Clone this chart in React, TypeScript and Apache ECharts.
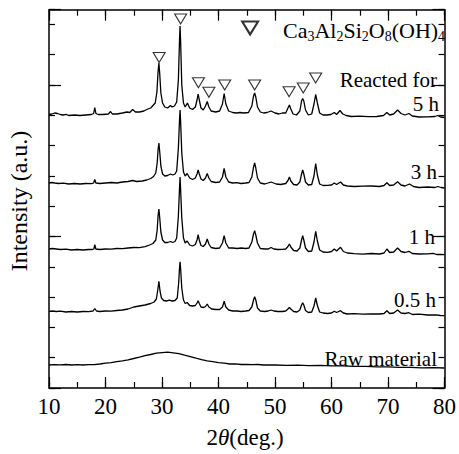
import React, { useEffect, useRef } from "react";
import * as echarts from "echarts";

// 2θ (deg.) vs intensity (a.u., offset traces)
const xMin = 10;
const xMax = 80;
const xMajor = 10;
const xMinor = 5;
const yMax = 378.3;
const yMinor = 30.3;
const yMajor = 151.5;

const raw: [number, number][] = [
  [10, 23], [11, 23.4], [12, 23.1], [13, 23.5], [14, 23], [15, 23.3], [16, 23], [17, 23.4], [18, 23.3],
  [19, 24], [20, 24.8], [21, 25.3], [22, 26.3], [23, 27.2], [24, 28.2], [25, 29.5], [26, 30.8],
  [27, 32.3], [28, 33.5], [29, 34.9], [30, 35.4], [31, 35.8], [32, 35.2], [33, 34.3], [34, 32.8],
  [35, 31.4], [36, 29.8], [37, 28.4], [38, 27.2], [39, 26.3], [40, 25.3], [41, 24.8], [42, 24],
  [43, 24.2], [44, 23.5], [45, 23.7], [46, 23.4], [47, 23.5], [48, 23], [49, 23.2], [50, 23],
  [52, 22.6], [54, 22.8], [56, 22.4], [58, 22.6], [60, 22.1], [62, 22.2], [64, 21.6], [66, 21.7],
  [68, 21.1], [70, 21.2], [72, 20.6], [74, 20.7], [76, 20.2], [78, 20.3], [80, 20],
];

const h05: [number, number][] = [
  [10, 76.7], [10.6, 77], [11.3, 76.5], [12, 76.8], [13, 76], [14, 76.5], [15, 76], [16, 76.5],
  [17, 76.3], [17.8, 77], [18.1, 79.5], [18.4, 77], [19, 76.5], [20, 77], [21, 76.8], [22, 77.5],
  [23, 78], [24, 79], [25, 81], [26, 82], [27, 83], [28, 84.5], [28.6, 86], [29, 89], [29.25, 98],
  [29.45, 106.7], [29.65, 97], [29.9, 90], [30.3, 87.5], [30.8, 87], [31.3, 87.8], [31.8, 87],
  [32.3, 87.5], [32.7, 90], [32.95, 105], [33.1, 120], [33.2, 126.3], [33.3, 119], [33.5, 100],
  [33.8, 88], [34.1, 84.5], [34.45, 85.5], [34.9, 82.5], [35.4, 82], [35.9, 82.5], [36.2, 85],
  [36.4, 87.3], [36.6, 84.5], [36.9, 81], [37.4, 80.5], [37.7, 81.5], [38, 84], [38.3, 81],
  [38.8, 79], [39.5, 78.5], [40.2, 78.5], [40.7, 81], [41, 86.7], [41.3, 81], [41.8, 78],
  [42.5, 77], [43.3, 77], [44, 76.5], [44.8, 77], [45.4, 77.5], [45.9, 81], [46.2, 88],
  [46.4, 91.3], [46.6, 88], [46.9, 80], [47.4, 77], [48.2, 76.5], [48.8, 77], [49.3, 78],
  [49.8, 77], [50.5, 76.5], [51.3, 76.5], [51.9, 77], [52.3, 79], [52.55, 80.7], [52.8, 79],
  [53.3, 76.5], [53.9, 76], [54.4, 78], [54.7, 83], [54.9, 85.3], [55.1, 83], [55.4, 77.5],
  [55.9, 75.5], [56.5, 76], [56.9, 82], [57.2, 90], [57.5, 82.5], [57.9, 76], [58.5, 75],
  [59.3, 74.5], [60, 75], [60.5, 76.7], [60.9, 75.5], [61.6, 77.3], [62.1, 75], [62.8, 74],
  [64, 74.3], [65.5, 73.8], [67, 74.2], [68.5, 74], [69.3, 74.5], [69.8, 77.3], [70.3, 74.5],
  [71, 75], [71.7, 78], [72.3, 75], [73, 74.5], [73.7, 75.3], [74.3, 73.5], [75.5, 73.8],
  [77, 73], [78.5, 73.2], [79.3, 72.5], [80, 72.3],
];

const h1: [number, number][] = [
  [10, 139], [10.6, 139.5], [11.3, 139], [12, 138.5], [13, 138.8], [14, 138], [15, 138.5], [16, 138],
  [17, 138.5], [17.7, 138.5], [17.95, 139], [18.1, 143.3], [18.3, 139], [19, 138.5], [20, 139],
  [21, 138.8], [22, 139.5], [23, 139.3], [24, 140], [25, 140.5], [26, 140.3], [27, 141.3],
  [27.8, 143], [28.4, 144.5], [28.9, 148], [29.15, 158], [29.3, 172], [29.45, 179], [29.6, 170],
  [29.8, 156], [30.1, 148], [30.5, 145.5], [31, 145.5], [31.5, 146.5], [31.9, 145.5], [32.3, 146.5],
  [32.6, 150], [32.9, 172], [33.1, 200], [33.2, 211], [33.3, 198], [33.5, 170], [33.8, 150],
  [34.1, 145], [34.45, 147], [34.9, 143], [35.4, 142], [35.9, 143.5], [36.2, 148], [36.4, 153.3],
  [36.6, 148], [36.9, 142.5], [37.3, 141.5], [37.7, 144], [38, 149], [38.3, 144], [38.7, 140.5],
  [39.5, 139.5], [40.2, 140], [40.7, 145], [41, 152.3], [41.3, 145], [41.8, 140], [42.5, 140],
  [43.3, 139.5], [44, 140], [44.8, 139.5], [45.4, 140], [45.9, 146], [46.2, 154], [46.4, 157.3],
  [46.6, 153], [46.9, 145], [47.4, 139.5], [48.2, 139], [48.8, 139], [49.3, 140.5], [49.8, 139],
  [50.5, 138.5], [51.3, 138.7], [51.9, 139], [52.3, 141.5], [52.55, 144], [52.8, 141], [53.3, 137.5],
  [53.9, 137], [54.4, 140], [54.7, 148], [54.9, 152.3], [55.1, 148], [55.4, 140], [55.9, 136.5],
  [56.5, 137], [56.9, 146], [57.2, 156.7], [57.5, 147], [57.9, 138], [58.5, 136], [59.3, 135.7],
  [60, 136.5], [60.5, 139], [60.9, 137], [61.6, 140.7], [62.1, 136.5], [62.8, 135], [64, 134.3],
  [65.5, 133.8], [67, 134.5], [68.5, 134], [69.3, 135], [69.8, 139], [70.3, 135.5], [71, 136],
  [71.7, 140], [72.3, 136.5], [73, 135.5], [73.7, 136.7], [74.3, 134.5], [75.5, 134], [77, 134.2],
  [78, 134.7], [78.6, 133.5], [79.3, 133.7], [80, 133.3],
];

const h3: [number, number][] = [
  [10, 205], [10.5, 205.5], [11, 205], [11.7, 204.5], [12.5, 204.8], [13.5, 204], [14.5, 204.5],
  [15.5, 204], [16.5, 204.5], [17.5, 204.3], [17.9, 205], [18.1, 208.5], [18.3, 205], [19, 204.5],
  [20, 205], [21, 205.5], [22, 205], [23, 206], [24, 206.5], [24.8, 207.5], [25.5, 206.5], [26.5, 207],
  [27.3, 208], [28, 209.5], [28.5, 211.5], [28.9, 215], [29.15, 225], [29.3, 238], [29.45, 245],
  [29.6, 236], [29.8, 222], [30.1, 214], [30.5, 212], [31, 212.5], [31.5, 214], [31.9, 213],
  [32.3, 214], [32.6, 217], [32.9, 240], [33.1, 268], [33.2, 278], [33.3, 266], [33.5, 235],
  [33.8, 216], [34.1, 212], [34.45, 214.5], [34.9, 210], [35.4, 208.5], [35.9, 210], [36.2, 214],
  [36.4, 218], [36.6, 214], [36.9, 209], [37.3, 207.5], [37.7, 210], [38, 214.5], [38.3, 210],
  [38.7, 206.5], [39.5, 205.5], [40.2, 206], [40.7, 211], [41, 219.5], [41.3, 211], [41.8, 206],
  [42.5, 205], [43.2, 205.3], [44, 204.5], [44.8, 205], [45.4, 205.5], [45.9, 211], [46.2, 221],
  [46.4, 225], [46.6, 220], [46.9, 210], [47.4, 205], [48.2, 204], [49.3, 206], [50.2, 204],
  [51, 203.5], [51.9, 204.5], [52.3, 207.5], [52.55, 211], [52.8, 207], [53.3, 203.5], [53.9, 203],
  [54.4, 206], [54.7, 214], [54.9, 218], [55.1, 214], [55.4, 206], [55.9, 203], [56.5, 203.5],
  [56.9, 212], [57.2, 224.5], [57.5, 213], [57.9, 204], [58.5, 202.5], [59.3, 202.7], [60, 203],
  [60.5, 205], [60.9, 203.5], [61.6, 206], [62.1, 203], [62.8, 202], [64, 201.5], [65.5, 201.8],
  [67, 202], [68.5, 201.5], [69.3, 202.5], [69.8, 205.3], [70.3, 202.5], [71, 203], [71.7, 206.3],
  [72.3, 203], [73, 202], [73.8, 204], [74.5, 201.5], [75.5, 200.5], [77, 201], [78.3, 200.5],
  [78.8, 201.5], [79.4, 200.5], [80, 200],
];

const h5: [number, number][] = [
  [10, 273.5], [10.5, 274], [11, 275], [11.5, 274.5], [12, 273.5], [12.5, 273], [13, 273.6],
  [13.5, 272.5], [14.5, 273], [15.5, 272.5], [16.5, 273], [17.5, 273.5], [17.9, 274.5], [18.1, 280.5],
  [18.3, 274.5], [18.7, 273.5], [19.5, 273.5], [20.5, 274], [20.9, 276.5], [21.2, 274], [22, 274],
  [23, 275], [23.8, 276], [24.3, 275.5], [24.8, 278.5], [25.3, 276], [26, 276], [26.8, 277],
  [27.5, 279], [28, 280], [28.4, 282.5], [28.8, 285], [29.1, 296], [29.3, 316], [29.45, 325],
  [29.6, 314], [29.8, 295], [30.1, 285], [30.5, 281], [31, 280], [31.5, 282.5], [31.8, 281],
  [32.2, 282], [32.6, 286], [32.9, 308], [33.1, 348], [33.2, 362], [33.3, 346], [33.5, 303],
  [33.8, 285], [34.1, 281], [34.5, 285], [34.9, 280], [35.4, 278.5], [35.9, 281], [36.2, 288],
  [36.4, 294], [36.6, 288], [36.9, 280], [37.3, 278], [37.7, 282], [38, 286.5], [38.3, 281],
  [38.7, 277], [39.5, 276], [40.2, 277], [40.7, 284], [41, 294.5], [41.3, 284], [41.8, 277],
  [42.5, 275.5], [43.2, 275], [43.8, 275.5], [44.5, 275], [45.3, 275.5], [45.9, 282], [46.2, 292],
  [46.4, 295], [46.6, 291], [46.9, 281], [47.4, 276], [48, 275], [48.6, 275.5], [49.3, 277],
  [50, 275], [50.7, 274], [51.3, 275], [51.9, 275], [52.3, 280], [52.55, 283], [52.8, 279],
  [53.2, 274], [53.8, 273], [54.4, 277], [54.7, 287], [54.9, 289.5], [55.1, 287], [55.4, 278],
  [55.9, 273], [56.5, 274], [56.9, 284], [57.2, 293.5], [57.5, 285], [57.9, 275], [58.5, 273],
  [59.2, 273], [59.9, 273.5], [60.5, 275.5], [60.9, 273.5], [61.5, 277.5], [62, 274], [62.6, 272.5],
  [63.5, 271.5], [65, 271.8], [66.5, 271.3], [68, 271.5], [69.2, 272.5], [69.8, 275.5], [70.3, 273],
  [71, 274], [71.7, 278], [72.3, 274.5], [73, 273], [73.7, 274.5], [74.3, 272], [75.5, 271],
  [77, 271.2], [78.3, 271.5], [78.8, 272.5], [79.3, 271], [80, 270.5],
];

const peakMarkers: [number, number][] = [
  [29.5, 330.5], [33.3, 369], [36.45, 305.3], [38.3, 295.7], [41.1, 303],
  [46.4, 303], [52.5, 296.3], [55.0, 300], [57.2, 310],
];
const legendMarker: [number, number][] = [[45.6, 360]];

const traceLabels = ["Reacted for", "5 h", "3 h", "1 h", "0.5 h", "Raw material"];

const serif = "Liberation Serif";

export default function App() {
  const ref = useRef<HTMLDivElement>(null);
  useEffect(() => {
    document.body.style.margin = "0";
    if (!ref.current) return;
    const chart = echarts.init(ref.current, null, { renderer: "svg" });
    const black = "#000";
    const mkX = (pos: string, interval: number, len: number, labels: boolean, line: boolean) => ({
      type: "value",
      position: pos,
      min: xMin,
      max: xMax,
      interval,
      axisLine: { show: line, onZero: false, lineStyle: { color: black, width: 1.5 } },
      axisTick: { show: true, inside: true, length: len, lineStyle: { color: black, width: 1.2 } },
      axisLabel: labels
        ? { show: true, color: black, fontFamily: serif, fontSize: 23, margin: 7 }
        : { show: false },
      splitLine: { show: false },
    });
    const mkY = (pos: string, interval: number, len: number, line: boolean) => ({
      type: "value",
      position: pos,
      min: 0,
      max: yMax,
      interval,
      axisLine: { show: line, onZero: false, lineStyle: { color: black, width: 1.5 } },
      axisTick: { show: true, inside: true, length: len, lineStyle: { color: black, width: 1.2 } },
      axisLabel: { show: false },
      splitLine: { show: false },
    });
    const line = (name: string, data: [number, number][]) => ({
      name,
      type: "line",
      data,
      showSymbol: false,
      symbol: "none",
      xAxisIndex: 0,
      yAxisIndex: 0,
      lineStyle: { color: black, width: 1.3 },
      z: 2,
    });
    const labelPos: [number, number][] = [
      [437, 80], [439, 104], [437, 172], [435, 237], [436, 300], [437, 359],
    ];
    chart.setOption({
      animation: false,
      grid: { left: 49, right: 13, top: 9.7, bottom: 66 },
      xAxis: [
        mkX("bottom", xMajor, 11, true, true),
        mkX("bottom", xMinor, 6, false, false),
        mkX("top", xMajor, 11, false, true),
        mkX("top", xMinor, 6, false, false),
      ],
      yAxis: [
        mkY("left", yMinor, 6, true),
        mkY("left", yMajor, 12, false),
        mkY("right", yMinor, 6, true),
        mkY("right", yMajor, 12, false),
      ],
      series: [
        line("Raw material", raw),
        line("0.5 h", h05),
        line("1 h", h1),
        line("3 h", h3),
        line("5 h", h5),
        {
          type: "scatter",
          data: peakMarkers,
          symbol: "triangle",
          symbolRotate: 180,
          symbolSize: [12, 10],
          itemStyle: { color: "#fff", borderColor: black, borderWidth: 1.1 },
          z: 5,
        },
        {
          type: "scatter",
          data: legendMarker,
          symbol: "triangle",
          symbolRotate: 180,
          symbolSize: [16, 13],
          itemStyle: { color: "#fff", borderColor: black, borderWidth: 2 },
          z: 5,
        },
      ],
      graphic: [
        ...traceLabels.map((t, i) => ({
          type: "text",
          x: labelPos[i][0],
          y: labelPos[i][1],
          z: 10,
          style: {
            text: t,
            fill: black,
            fontFamily: serif,
            fontSize: 21,
            align: "right",
            verticalAlign: "middle",
          },
        })),
        {
          type: "text",
          x: 283,
          y: 30,
          z: 10,
          style: {
            text: "{m|Ca}{s|3}{m|Al}{s|2}{m|Si}{s|2}{m|O}{s|8}{m|(OH)}{s|4}",
            align: "left",
            verticalAlign: "middle",
            fill: black,
            rich: {
              m: { fontFamily: serif, fontSize: 22, lineHeight: 26, fill: black },
              s: { fontFamily: serif, fontSize: 14, lineHeight: 14, verticalAlign: "bottom", fill: black },
            },
          },
        },
        {
          type: "text",
          x: 19,
          y: 201,
          rotation: Math.PI / 2,
          style: {
            text: "Intensity (a.u.)",
            fill: black,
            fontFamily: serif,
            fontSize: 24,
            align: "center",
            verticalAlign: "middle",
          },
        },
        {
          type: "text",
          x: 245,
          y: 437,
          style: {
            text: "{a|2}{b|θ}{a|(deg.)}",
            align: "center",
            verticalAlign: "middle",
            fill: black,
            rich: {
              a: { fontFamily: serif, fontSize: 23, fill: black },
              b: { fontFamily: serif, fontSize: 23, fontStyle: "italic", fill: black },
            },
          },
        },
      ],
    });
    return () => chart.dispose();
  }, []);
  return <div ref={ref} style={{ width: 459, height: 454 }} />;
}
